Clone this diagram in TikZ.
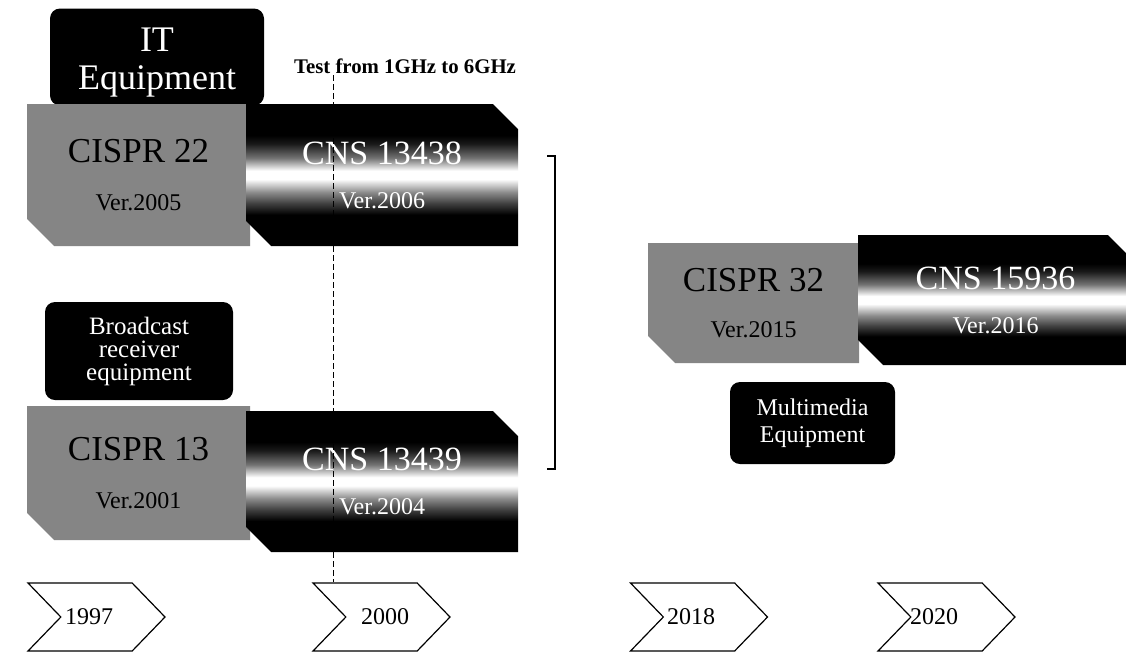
\documentclass[tikz,border=0pt]{standalone}
\usepackage{fontspec}
\setmainfont{Liberation Serif}
\usetikzlibrary{shapes.misc,shapes.symbols,positioning}

% metallic band used for the CNS boxes
\pgfdeclareverticalshading{cnsmetal}{100bp}{color(0bp)=(black); color(36bp)=(black); color(40bp)=(black!75); color(44bp)=(black!45); color(48.5bp)=(white); color(51.5bp)=(white); color(56bp)=(black!55); color(61bp)=(black!90); color(64bp)=(black); color(100bp)=(black)}

\begin{document}
\begin{tikzpicture}[x=1pt, y=-1pt,
  tag/.style={rounded corners=10pt, fill=black, text=white, align=center, inner sep=0pt},
  grey/.style={chamfered rectangle, chamfered rectangle corners=south west,
    chamfered rectangle xsep=24pt, fill=black!48, inner sep=0pt, align=center,
    font=\fontsize{35}{36}\selectfont},
  metal/.style={chamfered rectangle, chamfered rectangle corners={south west,north east},
    chamfered rectangle xsep=22pt, shading=cnsmetal, text=white, inner sep=0pt, align=center,
    font=\fontsize{34}{36}\selectfont},
  year/.style={signal, signal from=west, signal to=east, signal pointer angle=92,
    draw=black, line width=1.2pt, minimum width=137pt, minimum height=68pt, inner sep=0pt},
  yeartext/.style={font=\fontsize{24}{26}\selectfont, inner sep=0pt},
]
\fill[white] (0,0) rectangle (1126,654);
\useasboundingbox (0,0) rectangle (1126,654);

% IT equipment
\node[tag, minimum width=214pt, minimum height=97pt] (it) at (157,57) {};
\node[text=white, align=center, font=\fontsize{36}{38}\selectfont] (ittext) at (157,63) {IT\\Equipment};
\node[grey, minimum width=223pt, minimum height=142pt] (cispr22) at (138.5,175)
  {CISPR 22\\[12pt]{\fontsize{24}{26}\selectfont Ver.2005}};
\node[metal, minimum width=272pt, minimum height=142pt] (cns13438) at (382,175)
  {CNS 13438\\[8pt]{\fontsize{24}{26}\selectfont Ver.2006}};

% broadcast receiver
\node[tag, minimum width=188pt, minimum height=98pt, font=\fontsize{25}{23}\selectfont]
  (bcast) at (139,351) {Broadcast\\receiver\\equipment};
\node[grey, minimum width=223pt, minimum height=134pt] (cispr13) at (138.5,473)
  {CISPR 13\\[12pt]{\fontsize{24}{26}\selectfont Ver.2001}};
\node[metal, minimum width=272pt, minimum height=141pt] (cns13439) at (382,481.5)
  {CNS 13439\\[8pt]{\fontsize{24}{26}\selectfont Ver.2004}};

% multimedia
\node[grey, minimum width=211pt, minimum height=120pt] (cispr32) at (753.5,303)
  {CISPR 32\\[10pt]{\fontsize{24}{26}\selectfont Ver.2015}};
\node[metal, minimum width=275pt, minimum height=130pt] (cns15936) at (995.5,300)
  {CNS 15936\\[8pt]{\fontsize{24}{26}\selectfont Ver.2016}};
\node[tag, minimum width=165pt, minimum height=82pt, font=\fontsize{24}{27}\selectfont]
  (mmedia) at (812.5,423) {Multimedia\\Equipment};

% timeline
\node[year] (y1997) at (96.5,617) {};
\node[year] (y2000) at (381.5,617) {};
\node[year] (y2018) at (699,617) {};
\node[year] (y2020) at (946.5,617) {};
\node[yeartext] (t1997) at (89,617) {1997};
\node[yeartext] (t2000) at (385,617) {2000};
\node[yeartext] (t2018) at (691,617) {2018};
\node[yeartext] (t2020) at (934,617) {2020};

% test note
\node[font=\bfseries\fontsize{20.8}{22}\selectfont] (test) at (405,66) {Test from 1GHz to 6GHz};
\coordinate (dtop) at (333,75);
\draw[dash pattern=on 6pt off 3pt, line width=0.9pt] (dtop) -- (dtop |- y2000.north);

% bracket
\coordinate (brtop) at (555,156);
\coordinate (brbot) at (555,469);
\draw[line width=1.6pt] ([xshift=-8pt]brtop) -- (brtop) -- (brbot) -- ([xshift=-8pt]brbot);

\end{tikzpicture}
\end{document}
